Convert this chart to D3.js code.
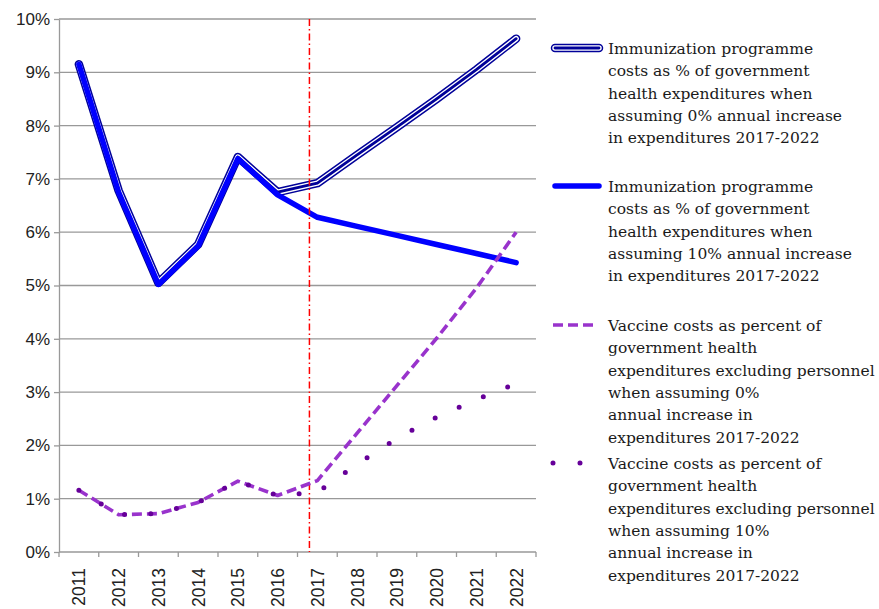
<!DOCTYPE html>
<html>
<head>
<meta charset="utf-8">
<script src="https://cdn.jsdelivr.net/npm/d3@7"></script>
<style>
  body { margin: 0; background: #fff; }
  svg { display: block; }
</style>
</head>
<body>
<div id="chart"></div>
<script>
// data (values in %)
const years = ["2011", "2012", "2013", "2014", "2015", "2016", "2017", "2018", "2019", "2020", "2021", "2022"];
const immun0 = [9.15, 6.78, 5.05, 5.77, 7.41, 6.75, 6.92, 7.45, 7.97, 8.5, 9.05, 9.63];
const immun10 = [9.15, 6.75, 5.02, 5.74, 7.38, 6.7, 6.28, 6.11, 5.94, 5.77, 5.6, 5.43];
const vacc0 = [1.16, 0.7, 0.72, 0.93, 1.33, 1.06, 1.34, 2.23, 3.12, 4.01, 4.95, 6.0];
const vacc10 = [1.16, 0.7, 0.72, 0.93, 1.33, 1.06, 1.12, 1.65, 2.13, 2.53, 2.86, 3.16];
const yTicks = [0, 1, 2, 3, 4, 5, 6, 7, 8, 9, 10];
const projectionStart = 2016.8;

const legendLabels = [
    ["Immunization programme", "costs as % of government", "health expenditures when", "assuming 0% annual increase", "in expenditures 2017-2022"],
    ["Immunization programme", "costs as % of government", "health expenditures when", "assuming 10% annual increase", "in expenditures 2017-2022"],
    ["Vaccine costs as percent of", "government health", "expenditures excluding personnel", "when assuming 0%", "annual increase in", "expenditures 2017-2022"],
    ["Vaccine costs as percent of", "government health", "expenditures excluding personnel", "when assuming 10%", "annual increase in", "expenditures 2017-2022"]
];

const width = 879, height = 609;
const margin = { top: 19, left: 59, right: 343, bottom: 57 };
const plotW = width - margin.left - margin.right;
const plotH = height - margin.top - margin.bottom;

const svg = d3.select("#chart").append("svg")
    .attr("width", width)
    .attr("height", height);

const g = svg.append("g")
    .attr("transform", `translate(${margin.left},${margin.top})`);

const x = d3.scaleBand().domain(years).range([0, plotW]);
const bw = x.bandwidth();
const xLin = d3.scaleLinear()
    .domain([+years[0], +years[years.length - 1]])
    .range([x(years[0]) + bw / 2, x(years[years.length - 1]) + bw / 2]);
const y = d3.scaleLinear().domain([0, 10]).range([plotH, 0]);

// gridlines
g.append("g")
    .selectAll("line")
    .data(yTicks.filter(d => d > 0))
    .enter().append("line")
    .attr("x1", 0).attr("x2", plotW)
    .attr("y1", d => y(d)).attr("y2", d => y(d))
    .attr("stroke", "#999").attr("stroke-width", 1.3);

// y axis
const yAxis = g.append("g")
    .call(d3.axisLeft(y).tickValues(yTicks).tickFormat(d => d + "%").tickSize(5).tickSizeOuter(0));
yAxis.selectAll("line, path").attr("stroke", "#999").attr("stroke-width", 1.3);
yAxis.selectAll("text")
    .attr("font-family", "'Liberation Sans', Arial, sans-serif")
    .attr("font-size", 17).attr("fill", "#222").attr("x", -9);

// x axis: ticks on band boundaries
const xAxis = g.append("g").attr("transform", `translate(0,${plotH})`);
xAxis.append("line").attr("x1", 0).attr("x2", plotW)
    .attr("stroke", "#999").attr("stroke-width", 1.3);
xAxis.selectAll(".tk")
    .data(years.concat(["end"]))
    .enter().append("line")
    .attr("x1", (d, i) => i * bw).attr("x2", (d, i) => i * bw)
    .attr("y1", 0).attr("y2", 5)
    .attr("stroke", "#999").attr("stroke-width", 1.3);
xAxis.selectAll("text")
    .data(years)
    .enter().append("text")
    .attr("transform", d => `translate(${x(d) + bw / 2 + 6.5},${16}) rotate(-90)`)
    .attr("text-anchor", "end")
    .attr("font-family", "'Liberation Sans', Arial, sans-serif")
    .attr("font-size", 17.5).attr("fill", "#222")
    .text(d => d);

const line = d3.line()
    .x((d, i) => x(years[i]) + bw / 2)
    .y(d => y(d));

// double line (0% increase)
const dbl = g.append("g").attr("fill", "none")
    .attr("stroke-linecap", "round").attr("stroke-linejoin", "round");
dbl.append("path").attr("d", line(immun0)).attr("stroke", "#000099").attr("stroke-width", 8.5);
dbl.append("path").attr("d", line(immun0)).attr("stroke", "#fff").attr("stroke-width", 5.5);
dbl.append("path").attr("d", line(immun0)).attr("stroke", "#000099").attr("stroke-width", 2.8);

// solid blue (10% increase)
g.append("path").attr("d", line(immun10))
    .attr("fill", "none").attr("stroke", "#0000ff").attr("stroke-width", 5.5)
    .attr("stroke-linecap", "round").attr("stroke-linejoin", "round");

// projection marker
g.append("line")
    .attr("x1", xLin(projectionStart)).attr("x2", xLin(projectionStart))
    .attr("y1", 0).attr("y2", plotH)
    .attr("stroke", "#ff0000").attr("stroke-width", 1.5)
    .attr("stroke-dasharray", "7,3,1.5,3");

// vaccine 0%: dashed
g.append("path").attr("d", line(vacc0))
    .attr("fill", "none").attr("stroke", "#9933cc").attr("stroke-width", 3.6)
    .attr("stroke-dasharray", "10,5").attr("stroke-linejoin", "round");

// vaccine 10%: round dots
g.append("path").attr("d", line(vacc10))
    .attr("fill", "none").attr("stroke", "#660099").attr("stroke-width", 5)
    .attr("stroke-dasharray", "0,26.3").attr("stroke-linecap", "round");

// legend
const legend = svg.append("g").attr("transform", "translate(552,0)");
const itemTops = [48, 186, 325, 463];
const lineH = 22.4;

legendLabels.forEach((lines, k) => {
    const it = legend.append("g").attr("transform", `translate(0,${itemTops[k]})`);
    if (k === 0) {
        it.append("line").attr("x1", 3).attr("x2", 47).attr("stroke", "#000099").attr("stroke-width", 8.5).attr("stroke-linecap", "round");
        it.append("line").attr("x1", 3).attr("x2", 47).attr("stroke", "#fff").attr("stroke-width", 5.5).attr("stroke-linecap", "round");
        it.append("line").attr("x1", 3).attr("x2", 47).attr("stroke", "#000099").attr("stroke-width", 2.8).attr("stroke-linecap", "round");
    } else if (k === 1) {
        it.append("line").attr("x1", 3).attr("x2", 47).attr("stroke", "#0000ff").attr("stroke-width", 5.5).attr("stroke-linecap", "round");
    } else if (k === 2) {
        it.append("line").attr("x1", 1).attr("x2", 44).attr("stroke", "#9933cc").attr("stroke-width", 3.6).attr("stroke-dasharray", "10,5");
    } else {
        it.append("line").attr("x1", 1).attr("x2", 44).attr("stroke", "#660099").attr("stroke-width", 5)
            .attr("stroke-dasharray", "0,27").attr("stroke-linecap", "round");
    }
    it.append("text")
        .attr("x", 56).attr("y", 0)
        .attr("font-family", "'DejaVu Serif', serif")
        .attr("font-size", 15.5).attr("fill", "#1a1a1a")
        .selectAll("tspan")
        .data(lines)
        .enter().append("tspan")
        .attr("x", 56).attr("dy", (d, i) => i === 0 ? 5.8 : lineH)
        .text(d => d);
});
</script>
</body>
</html>
